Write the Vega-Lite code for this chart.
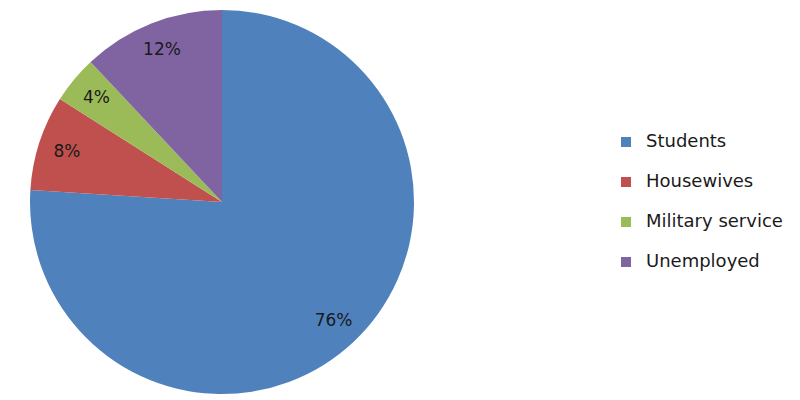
{
  "$schema": "https://vega.github.io/schema/vega-lite/v6.json",
  "width": 444,
  "height": 404,
  "padding": 0,
  "autosize": {"type": "pad"},
  "background": "white",
  "view": {"stroke": null},
  "data": {
    "values": [
      {"category": "Students", "share": 76, "label": "76%", "ord": 1},
      {"category": "Housewives", "share": 8, "label": "8%", "ord": 2},
      {"category": "Military service", "share": 4, "label": "4%", "ord": 3},
      {"category": "Unemployed", "share": 12, "label": "12%", "ord": 4}
    ]
  },
  "encoding": {
    "theta": {"field": "share", "type": "quantitative", "stack": true},
    "order": {"field": "ord", "type": "quantitative"},
    "color": {
      "field": "category",
      "type": "nominal",
      "sort": ["Students", "Housewives", "Military service", "Unemployed"],
      "scale": {
        "domain": ["Students", "Housewives", "Military service", "Unemployed"],
        "range": ["#4F81BD", "#C0504D", "#9BBB59", "#8064A2"]
      },
      "legend": {
        "title": null,
        "orient": "none",
        "legendX": 617,
        "legendY": 133,
        "symbolType": "square",
        "symbolSize": 100,
        "symbolStrokeWidth": 0,
        "labelFont": "DejaVu Sans",
        "labelFontSize": 18,
        "labelColor": "#1a1a1a",
        "labelOffset": 11,
        "rowPadding": 22,
        "labelLimit": 300
      }
    }
  },
  "layer": [
    {
      "mark": {"type": "arc", "outerRadius": 192, "stroke": null}
    },
    {
      "mark": {"type": "text", "radius": 163, "font": "DejaVu Sans", "fontSize": 17, "fill": "#1a1a1a"},
      "encoding": {
        "text": {"field": "label", "type": "nominal"},
        "color": {"value": "#1a1a1a"}
      }
    }
  ]
}
